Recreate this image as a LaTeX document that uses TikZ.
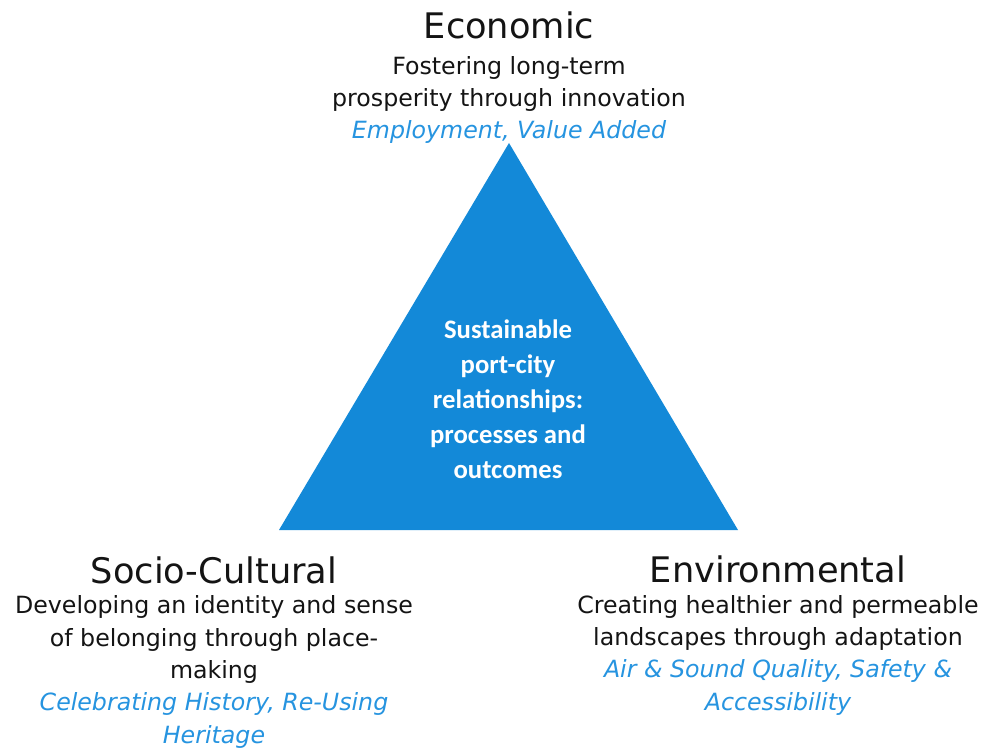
\documentclass[tikz,border=0pt]{standalone}
\usepackage{fontspec}
\setmainfont{DejaVu Sans}
\newfontfamily\centerfont{Carlito}
\definecolor{triblue}{RGB}{19,137,216}
\definecolor{accentblue}{RGB}{38,148,224}
\definecolor{textdark}{RGB}{20,20,20}
\begin{document}
\begin{tikzpicture}[x=1pt,y=-1pt,
  title/.style={anchor=base,inner sep=0pt,text=textdark,font=\fontsize{35.2}{40}\selectfont},
  body/.style={anchor=base,inner sep=0pt,align=center,text=textdark,font=\fontsize{23.7}{32.3}\selectfont},
  centertext/.style={anchor=base,inner sep=0pt,align=center,text=white,font=\centerfont\bfseries\fontsize{26.7}{35}\selectfont}]
\useasboundingbox (0,0) rectangle (986,751);
\fill[white] (0,0) rectangle (986,751);
\coordinate (apex) at (509,143);
\coordinate (bl) at (279,530);
\coordinate (br) at (738,530);
\fill[triblue] (apex) -- (bl) -- (br) -- cycle;
% base anchor of a multi-line node = baseline of its last line
\node[centertext] (core) at (508,478) {Sustainable\\port-city\\relationships:\\processes and\\outcomes};
\node[title] (econ) at (509,39) {Economic};
\node[body] (econdesc) at (509,139) {Fostering long-term\\prosperity through innovation\\\textcolor{accentblue}{\itshape Employment, Value Added}};
\node[title] (socio) at (214,583) {Socio-Cultural};
\node[body] (sociodesc) at (214,743) {Developing an identity and sense\\of belonging through place-\\making\\\textcolor{accentblue}{\itshape Celebrating History, Re-Using}\\\textcolor{accentblue}{\itshape Heritage}};
\node[title] (env) at (778,582) {Environmental};
\node[body] (envdesc) at (778,710) {Creating healthier and permeable\\landscapes through adaptation\\\textcolor{accentblue}{\itshape Air \& Sound Quality, Safety \&}\\\textcolor{accentblue}{\itshape Accessibility}};
\end{tikzpicture}
\end{document}
